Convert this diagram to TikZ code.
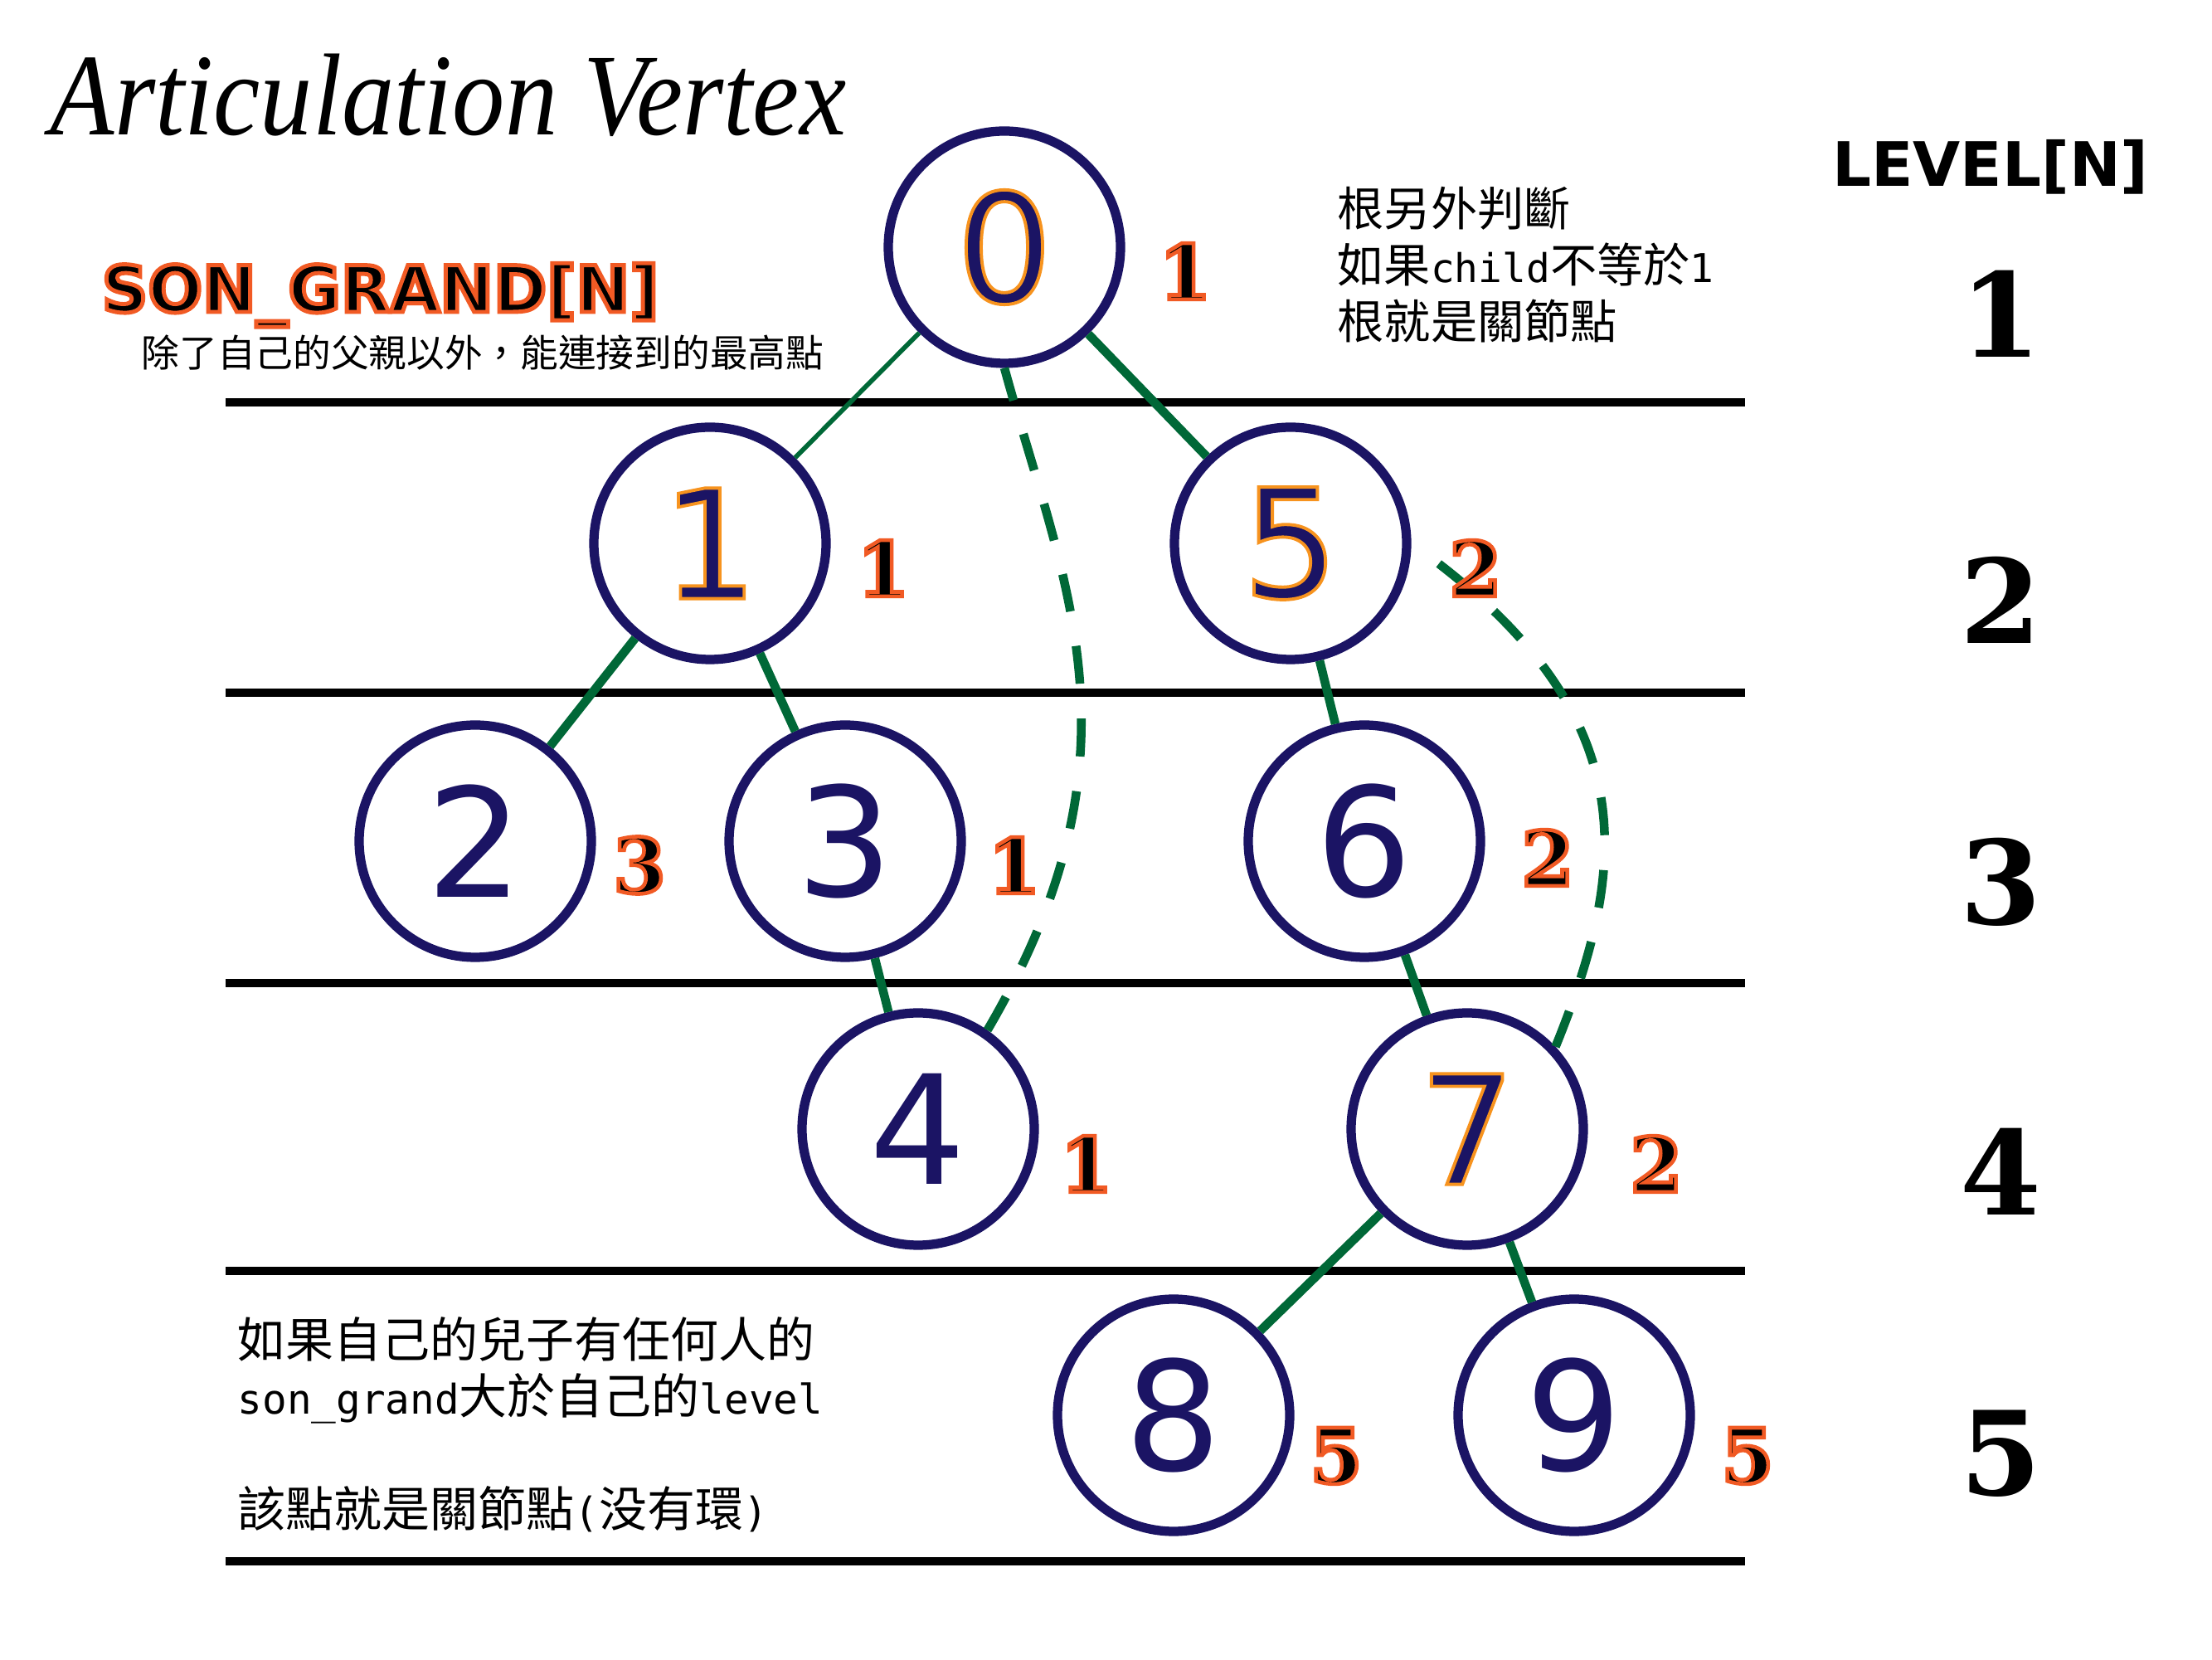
\documentclass[tikz,border=0pt]{standalone}
\usepackage{fontspec}
\usetikzlibrary{calc}
\definecolor{vnavy}{HTML}{1B1464}
\definecolor{edgegreen}{HTML}{006837}
\definecolor{artorange}{HTML}{F7931E}
\definecolor{sgorange}{HTML}{F15A24}
\newfontfamily\cjk{Noto Sans CJK TC}
\newfontfamily\halfw[Scale=0.85]{DejaVu Sans Mono}
\newfontfamily\numfont{DejaVu Sans}
\newfontfamily\copper{DejaVu Serif}
\newfontfamily\capfont{DejaVu Sans}
\newfontfamily\titlefont{Liberation Serif}
% outlined glyphs: fill in the text colour, stroke in the given rgb
\newcommand\outlined[3]{\special{pdf:literal 2 Tr #2 w #1 RG}#3\special{pdf:literal 0 Tr}}

\begin{document}
\begin{tikzpicture}[
    vtx/.style={circle, draw=vnavy, fill=white, line width=3.2pt, minimum size=2.8cm,
      inner sep=0pt, text=vnavy, font=\numfont\fontsize{52}{52}\selectfont},
    tree/.style={edgegreen, line width=3pt},
    back/.style={edgegreen, line width=3pt, dash pattern=on 13pt off 12pt},
    sg/.style={font=\copper\bfseries\fontsize{26}{26}\selectfont, text=black, inner sep=0pt},
    lvl/.style={font=\copper\bfseries\fontsize{40}{40}\selectfont, inner sep=0pt},
    level line/.style={line width=2.8pt}]
  \useasboundingbox (0,0) rectangle (26.67,20);
  \def\artnum#1{\outlined{0.969 0.576 0.118}{1.1}{#1}}
  \def\sgnum#1{\outlined{0.945 0.353 0.141}{1.3}{#1}}
  % --- level separators ---
  \foreach \y in {15.15,11.65,8.15,4.68,1.18}
    \draw[level line] (2.72,\y) -- (21.04,\y);
  % --- vertices (0,1,5,7 are the articulation ones) ---
  \node[vtx] (n0) at (12.11,17.02) {\artnum{0}};
  \node[vtx] (n1) at (8.56,13.45)  {\artnum{1}};
  \node[vtx] (n5) at (15.56,13.45) {\artnum{5}};
  \node[vtx] (n2) at (5.73,9.86)   {2};
  \node[vtx] (n3) at (10.19,9.86)  {3};
  \node[vtx] (n6) at (16.45,9.86)  {6};
  \node[vtx] (n4) at (11.07,6.39)  {4};
  \node[vtx] (n7) at (17.69,6.39)  {\artnum{7}};
  \node[vtx] (n8) at (14.15,2.94)  {8};
  \node[vtx] (n9) at (18.98,2.94)  {9};
  % --- dfs tree edges ---
  \draw[tree, line width=1.6pt] (n0) -- (n1);
  \foreach \a/\b in {0/5, 1/2, 1/3, 3/4, 5/6, 6/7, 7/8, 7/9}
    \draw[tree] (n\a) -- (n\b);
  % --- back edges ---
  \draw[back] (n4.55) .. controls (13.87,10.93) and (12.83,12.93) .. (n0.south);
  \draw[back] (n7.43) .. controls (19.64,9.57) and (19.87,11.42) .. (n5.east);
  % --- son_grand values ---
  \foreach \n/\v/\dx/\dy in {0/1/2.18/-0.29, 1/1/2.09/-0.30, 5/2/2.23/-0.30,
      2/3/1.98/-0.29, 3/1/2.04/-0.29, 6/2/2.21/-0.20, 4/1/2.03/-0.42,
      7/2/2.28/-0.42, 8/5/1.96/-0.49, 9/5/2.09/-0.49}
    \node[sg] (s\n) at ($(n\n)+(\dx,\dy)$) {\sgnum{\v}};
  % --- level column ---
  \node[font=\capfont\bfseries\fontsize{21}{21}\selectfont] (lvtitle) at (24.00,17.99) {LEVEL[N]};
  \foreach \y [count=\i] in {16.22,12.77,9.37,5.88,2.48}
    \node[lvl] (lv\i) at (24.12,\y) {\i};
  % --- titles and notes ---
  \node[anchor=base west, inner sep=0pt, font=\titlefont\itshape\fontsize{40}{44}\selectfont] (title)
    at (0.60,18.37) {\scalebox{0.9}[1]{Articulation Vertex}};
  \node[anchor=base west, inner sep=0pt, font=\capfont\bfseries\fontsize{22}{22}\selectfont] (sgtitle)
    at (1.22,16.24) {\outlined{0.945 0.353 0.141}{1.4}{SON\_GRAND[N]}};
  \node[anchor=west, inner sep=0pt, font=\cjk\fontsize{13}{15}\selectfont] (sgnote)
    at (1.70,15.75) {除了自己的父親以外，能連接到的最高點};
  \node[anchor=north west, inner sep=0pt, align=left, font=\cjk\fontsize{16}{19.3}\selectfont] (rootnote)
    at (16.12,17.75) {根另外判斷\\如果{\halfw child}不等於{\halfw 1}\\根就是關節點};
  \node[anchor=north west, inner sep=0pt, align=left, font=\cjk\fontsize{16.5}{19.3}\selectfont] (artnote)
    at (2.86,4.13) {如果自己的兒子有任何人的\\{\halfw son\_grand}大於自己的{\halfw level}\\[19.3pt]該點就是關節點{\halfw (}没有環{\halfw )}};
\end{tikzpicture}
\end{document}
